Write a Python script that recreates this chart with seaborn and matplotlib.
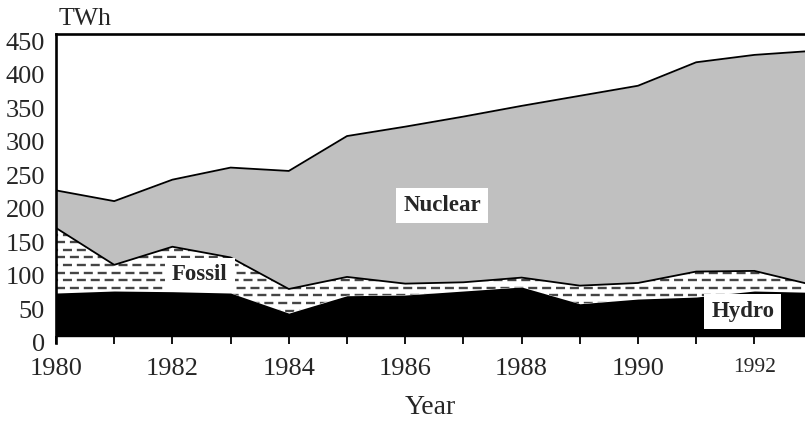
import matplotlib
matplotlib.use("Agg")
import matplotlib.pyplot as plt
import matplotlib.transforms as mtransforms
import numpy as np
import pandas as pd
import seaborn as sns

years = [1980, 1981, 1982, 1983, 1984, 1985, 1986, 1987, 1988, 1989, 1990, 1991, 1992, 1993]
hydro = [64, 67, 66, 64, 34, 60, 61, 67, 73, 48, 55, 58, 67, 65]
fossil = [97, 39, 67, 53, 36, 28, 17, 13, 14, 27, 24, 38, 30, 11]
nuclear = [56, 95, 100, 134, 176, 210, 234, 247, 256, 283, 294, 312, 322, 349]

xticks = [1980, 1982, 1984, 1986, 1988, 1990, 1992]
yticks = [0, 50, 100, 150, 200, 250, 300, 350, 400, 450]


def main():
    df = pd.DataFrame({"year": years, "hydro": hydro, "fossil": fossil, "nuclear": nuclear})
    df["fossil_top"] = df["hydro"] + df["fossil"]
    df["total"] = df["fossil_top"] + df["nuclear"]

    sns.set_theme(style="white")
    plt.rcParams["font.family"] = ["Liberation Serif", "DejaVu Serif"]
    plt.rcParams["lines.scale_dashes"] = False

    fig = plt.figure(figsize=(8.05, 4.21), dpi=100)
    ax = fig.add_axes([0.0696, 0.202, 0.9304, 0.717])

    # stacked areas
    ax.fill_between(df["year"], df["fossil_top"], df["total"], color="#c0c0c0", lw=0, zorder=1)
    fos = ax.fill_between(df["year"], df["hydro"], df["fossil_top"], color="white", lw=0, zorder=1)
    ax.fill_between(df["year"], 0, df["hydro"], color="black", lw=0, zorder=3)

    # dashed texture inside the fossil band
    clip = fos.get_paths()[0]
    for i, yy in enumerate(np.arange(4, 200, 11.3)):
        off = 0 if i % 2 == 0 else 5
        ln = ax.axhline(yy, color="#454545", lw=1.7, zorder=2)
        ln.set_linestyle((off, (6.5, 3.5)))
        ln.set_clip_path(clip, ax.transData)

    sns.lineplot(data=df, x="year", y="total", color="black", lw=1.3, ax=ax, zorder=4)
    sns.lineplot(data=df, x="year", y="fossil_top", color="black", lw=1.3, ax=ax, zorder=4)

    bbox = dict(boxstyle="square,pad=0.3", fc="white", ec="none")
    ax.text(1986.63, 195, "Nuclear", fontsize=16.5, fontweight="bold", ha="center", va="center", bbox=bbox, zorder=5)
    ax.text(1982.47, 91, "Fossil", fontsize=16.5, fontweight="bold", ha="center", va="center", bbox=bbox, zorder=5)
    ax.text(1991.8, 36.5, "Hydro", fontsize=16.5, fontweight="bold", ha="center", va="center", bbox=bbox, zorder=5)

    ax.set_xlim(1980, 1992.87)
    ax.set_ylim(0, 450)
    ax.set_xticks(range(1980, 1993))
    ax.set_xticklabels([str(y) if y in xticks else "" for y in range(1980, 1993)])
    ax.set_yticks(yticks)
    ax.tick_params(axis="x", direction="out", length=6, width=1.3, color="black",
                   labelsize=19, pad=10, bottom=True)
    ax.tick_params(axis="y", length=0, labelsize=19, pad=8)

    ax.set_xlabel("Year", fontsize=20, labelpad=11)
    ax.set_ylabel("")
    ax.text(0.003, 1.012, "TWh", transform=ax.transAxes, fontsize=18.5, ha="left", va="bottom")

    for side in ["left", "top"]:
        ax.spines[side].set_visible(True)
        ax.spines[side].set_color("black")
        ax.spines[side].set_linewidth(1.9)
    ax.spines["bottom"].set_color("black")
    ax.spines["bottom"].set_linewidth(1.0)
    ax.spines["right"].set_visible(False)
    ax.spines["left"].set_bounds(-10, 450)

    fig.canvas.draw()
    for lbl in ax.get_xticklabels():
        if lbl.get_text() == "1992":
            lbl.set_fontsize(15.5)
    shift = mtransforms.ScaledTranslation(0, -5 / 72, fig.dpi_scale_trans)
    for lbl in ax.get_yticklabels():
        lbl.set_transform(lbl.get_transform() + shift)

    fig.savefig("out.png", dpi=100)


if __name__ == "__main__":
    main()
